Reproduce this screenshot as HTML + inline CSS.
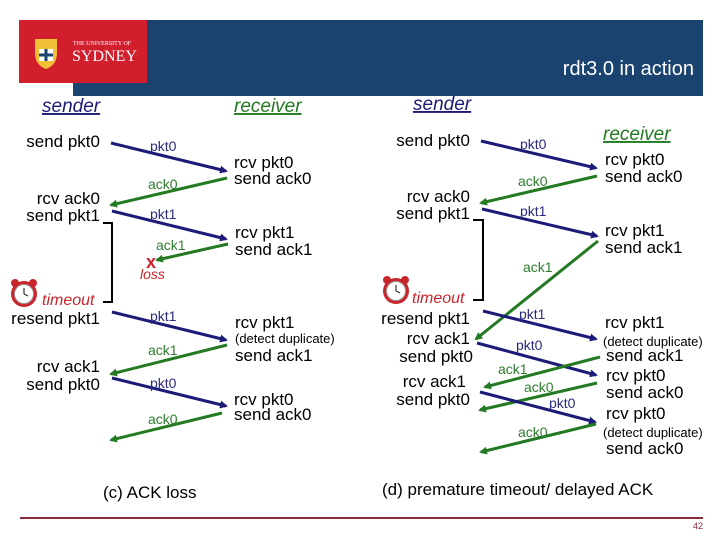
<!DOCTYPE html>
<html><head><meta charset="utf-8"><style>
html,body{margin:0;padding:0;background:#fff;}
svg{display:block;font-family:"Liberation Sans",sans-serif;}
.t{font-size:17px;fill:#000;}
.s{font-size:13px;fill:#000;}
.p{font-size:14px;fill:#2a2a80;}
.a{font-size:14px;fill:#2e7d2e;}
.bl{stroke:#1c1c78;stroke-width:3;}
.gr{stroke:#237a23;stroke-width:3;}
</style></head><body>
<svg width="720" height="540" viewBox="0 0 720 540">
<defs>
<marker id="mb" markerWidth="8" markerHeight="8" refX="6" refY="4" orient="auto" markerUnits="userSpaceOnUse"><path d="M0,0 L8,4 L0,8 z" fill="#1c1c78"/></marker>
<marker id="mg" markerWidth="8" markerHeight="8" refX="6" refY="4" orient="auto" markerUnits="userSpaceOnUse"><path d="M0,0 L8,4 L0,8 z" fill="#237a23"/></marker>
<g id="clk"><circle cx="0" cy="0" r="13" fill="#c8262c"/><circle cx="0" cy="0" r="9.5" fill="#fff" stroke="#999"/><path d="M0,0 L0,-6 M0,0 L4,2" stroke="#333" stroke-width="1.2"/><circle cx="-9" cy="-11" r="4" fill="#c8262c"/><circle cx="9" cy="-11" r="4" fill="#c8262c"/></g>
</defs>
<!-- header -->
<rect x="73" y="20" width="630" height="76" fill="#1a4370"/>
<rect x="19" y="20" width="128" height="63" fill="#d21f2e"/>
<path d="M35,39 h22 v14 q0,12 -11,16 q-11,-4 -11,-16z" fill="#f2c037"/>
<rect x="39" y="49" width="14" height="12" fill="#fff"/><path d="M46,49 v12 M39,55 h14" stroke="#1a4370" stroke-width="3"/>
<text x="73" y="45" font-size="6" fill="#fff" font-family="Liberation Serif,serif">THE UNIVERSITY OF</text>
<text x="72" y="61" font-size="16" fill="#fff" font-family="Liberation Serif,serif">SYDNEY</text>
<text x="694" y="75" text-anchor="end" font-size="20" fill="#fff">rdt3.0 in action</text>
<line x1="20" y1="518" x2="703" y2="518" stroke="#8b2a3a" stroke-width="2"/>
<text x="703" y="529" text-anchor="end" font-size="9" fill="#8b2a3a">42</text>

<!-- LEFT (c) -->
<text x="42" y="112" font-size="19" font-style="italic" fill="#1c1c78" text-decoration="underline">sender</text>
<text x="234" y="112" font-size="19" font-style="italic" fill="#237a23" text-decoration="underline">receiver</text>
<text class="t" x="100" y="147" text-anchor="end">send pkt0</text>
<text class="t" x="100" y="204" text-anchor="end">rcv ack0</text>
<text class="t" x="100" y="221" text-anchor="end">send pkt1</text>
<text class="t" x="234" y="168">rcv pkt0</text><text class="t" x="234" y="184">send ack0</text>
<text class="t" x="235" y="238">rcv pkt1</text><text class="t" x="235" y="255">send ack1</text>
<line class="bl" x1="111" y1="143" x2="226" y2="171" marker-end="url(#mb)"/><text class="p" x="150" y="151">pkt0</text>
<line class="gr" x1="227" y1="178" x2="111" y2="205" marker-end="url(#mg)"/><text class="a" x="148" y="189">ack0</text>
<line class="bl" x1="112" y1="211" x2="226" y2="239" marker-end="url(#mb)"/><text class="p" x="150" y="219">pkt1</text>
<line class="gr" x1="228" y1="244" x2="157" y2="260" marker-end="url(#mg)"/><text class="a" x="156" y="250">ack1</text>
<text x="146" y="268" font-size="18" font-weight="bold" fill="#d21f2e">x</text>
<text x="140" y="279" font-size="14" font-style="italic" fill="#c8262c">loss</text>
<path d="M103,223 H112 V302 H103" fill="none" stroke="#000" stroke-width="2"/>
<use href="#clk" x="24" y="294"/>
<text x="42" y="305" font-size="16" font-style="italic" fill="#c8262c">timeout</text>
<text class="t" x="100" y="324" text-anchor="end">resend pkt1</text>
<line class="bl" x1="112" y1="312" x2="226" y2="340" marker-end="url(#mb)"/><text class="p" x="150" y="321">pkt1</text>
<text class="t" x="235" y="328">rcv pkt1</text>
<text class="s" x="235" y="343">(detect duplicate)</text>
<text class="t" x="235" y="361">send ack1</text>
<line class="gr" x1="227" y1="345" x2="111" y2="374" marker-end="url(#mg)"/><text class="a" x="148" y="355">ack1</text>
<text class="t" x="100" y="372" text-anchor="end">rcv ack1</text>
<text class="t" x="100" y="390" text-anchor="end">send pkt0</text>
<line class="bl" x1="112" y1="378" x2="226" y2="406" marker-end="url(#mb)"/><text class="p" x="150" y="388">pkt0</text>
<text class="t" x="234" y="405">rcv pkt0</text><text class="t" x="234" y="420">send ack0</text>
<line class="gr" x1="222" y1="413" x2="111" y2="440" marker-end="url(#mg)"/><text class="a" x="148" y="424">ack0</text>
<text class="t" x="103" y="498">(c) ACK loss</text>

<!-- RIGHT (d) -->
<text x="413" y="110" font-size="19" font-style="italic" fill="#1c1c78" text-decoration="underline">sender</text>
<text x="603" y="140" font-size="19" font-style="italic" fill="#237a23" text-decoration="underline">receiver</text>
<text class="t" x="470" y="146" text-anchor="end">send pkt0</text>
<text class="t" x="470" y="202" text-anchor="end">rcv ack0</text>
<text class="t" x="470" y="219" text-anchor="end">send pkt1</text>
<text class="t" x="605" y="165">rcv pkt0</text><text class="t" x="605" y="182">send ack0</text>
<text class="t" x="605" y="236">rcv pkt1</text><text class="t" x="605" y="253">send ack1</text>
<line class="bl" x1="481" y1="141" x2="596" y2="168" marker-end="url(#mb)"/><text class="p" x="520" y="149">pkt0</text>
<line class="gr" x1="597" y1="176" x2="481" y2="203" marker-end="url(#mg)"/><text class="a" x="518" y="186">ack0</text>
<line class="bl" x1="482" y1="209" x2="597" y2="236" marker-end="url(#mb)"/><text class="p" x="520" y="216">pkt1</text>
<path d="M473,220 H483 V300 H473" fill="none" stroke="#000" stroke-width="2"/>
<line class="gr" x1="598" y1="241" x2="476" y2="339" marker-end="url(#mg)"/><text class="a" x="523" y="272">ack1</text>
<use href="#clk" x="396" y="291"/>
<text x="412" y="303" font-size="16" font-style="italic" fill="#c8262c">timeout</text>
<text class="t" x="470" y="324" text-anchor="end">resend pkt1</text>
<line class="bl" x1="483" y1="311" x2="596" y2="339" marker-end="url(#mb)"/><text class="p" x="519" y="319">pkt1</text>
<text class="t" x="605" y="328">rcv pkt1</text>
<text class="s" x="603" y="346">(detect duplicate)</text>
<text class="t" x="606" y="361">send ack1</text>
<text class="t" x="470" y="344" text-anchor="end">rcv ack1</text>
<text class="t" x="473" y="362" text-anchor="end">send pkt0</text>
<line class="bl" x1="477" y1="343" x2="596" y2="375" marker-end="url(#mb)"/><text class="p" x="516" y="350">pkt0</text>
<line class="gr" x1="600" y1="357" x2="485" y2="387" marker-end="url(#mg)"/><text class="a" x="498" y="374">ack1</text>
<text class="t" x="606" y="381">rcv pkt0</text><text class="t" x="606" y="398">send ack0</text>
<line class="gr" x1="597" y1="383" x2="480" y2="410" marker-end="url(#mg)"/><text class="a" x="524" y="392">ack0</text>
<text class="t" x="466" y="387" text-anchor="end">rcv ack1</text>
<text class="t" x="470" y="405" text-anchor="end">send pkt0</text>
<line class="bl" x1="480" y1="392" x2="595" y2="422" marker-end="url(#mb)"/><text class="p" x="549" y="408">pkt0</text>
<text class="t" x="606" y="419">rcv pkt0</text>
<text class="s" x="603" y="437">(detect duplicate)</text>
<text class="t" x="606" y="454">send ack0</text>
<line class="gr" x1="596" y1="424" x2="481" y2="452" marker-end="url(#mg)"/><text class="a" x="518" y="437">ack0</text>
<text class="t" x="382" y="495">(d) premature timeout/ delayed ACK</text>
</svg>
</body></html>
